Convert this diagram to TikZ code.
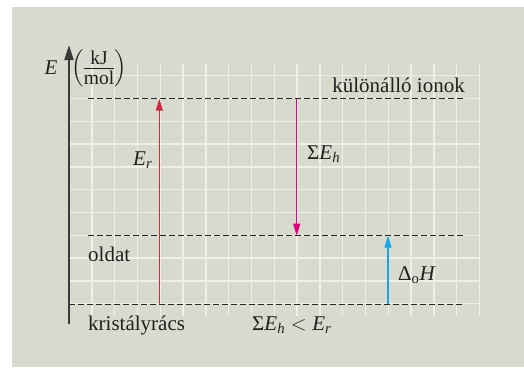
\documentclass[tikz,border=0pt]{standalone}
\usepackage{amsmath}
\usepackage{fontspec}
\setmainfont{Liberation Serif}
\usetikzlibrary{arrows.meta,positioning,calc}
\definecolor{enpanel}{HTML}{D9DACE}
\definecolor{engrid}{HTML}{F0F0E8}
\definecolor{enaxis}{HTML}{3A3A3A}
\definecolor{enred}{HTML}{D2283C}
\definecolor{enmagenta}{HTML}{E5007D}
\definecolor{encyan}{HTML}{14A6E6}
\definecolor{entext}{HTML}{231F20}

\begin{document}
\begin{tikzpicture}[
  x=1pt, y=-1pt,
  gridline/.style={engrid, line width=1.4pt},
  level/.style={dash pattern=on 6pt off 3pt, line width=0.9pt, black!85},
  axisarr/.style={-{Triangle[length=15pt,width=9pt]}, enaxis, line width=2pt},
  upred/.style={-{Triangle[length=12pt,width=7pt]}, enred, line width=1.3pt},
  downmag/.style={-{Triangle[length=12pt,width=7pt]}, enmagenta, line width=1.3pt},
  upcyan/.style={-{Triangle[length=12pt,width=7pt]}, encyan, line width=1.3pt},
  lbl/.style={font=\fontsize{21}{25}\selectfont, text=entext, inner sep=0pt},
  unitlbl/.style={font=\fontsize{19.5}{23}\selectfont, text=entext, inner sep=0pt},
]
\useasboundingbox (0,0) rectangle (524,367);

%% Panel and grid
\fill[enpanel] (12,7) rectangle (524,367);
\foreach \i in {1,...,18}
  \draw[gridline] ({69+22.8*\i},64) -- ({69+22.8*\i},316);
\foreach \j in {0,...,10}
  \draw[gridline] (69,{75.7+22.8*\j}) -- (480,{75.7+22.8*\j});

%% Energy axis
\coordinate (axbot) at (69,324);
\coordinate (axtop) at (69,45);
\draw[axisarr] (axbot) -- (axtop);
\node[lbl, anchor=base west] (elbl) at (44.3,74) {\textit{E}};
\node[unitlbl, anchor=center] (unit) at (99,68)
  {\renewcommand{\arraystretch}{0}\setlength{\arrayrulewidth}{0.8pt}%
   $\left(\vcenter{\hbox{\begin{tabular}{@{}c@{}}
     \rule[-3pt]{0pt}{14pt}kJ\\\hline
     \rule{0pt}{16pt}mol\end{tabular}}}\right)$};

%% Levels
\coordinate (ionsL) at (88,98.7);   \coordinate (ionsR) at (466,98.7);
\coordinate (oldL)  at (88,235.7);  \coordinate (oldR)  at (466,235.7);
\coordinate (crysL) at (69,304);    \coordinate (crysR) at (464,304);
\draw[level] (ionsL) -- (ionsR);
\draw[level] (oldL) -- (oldR);
\draw[level] (crysL) -- (crysR);

\node[lbl, anchor=base east] (ions) at (465,92.5) {különálló ionok};
\node[lbl, anchor=base west] (old)  at (88,261.3) {oldat};
\node[lbl, anchor=base west] (crys) at (88,330) {kristályrács};
\node[lbl, anchor=base west] (cmp)  at (252,330)
  {$\text{Σ}\textit{E}_{\textit{h}} < \textit{E}_{\textit{r}}$};

%% Arrows between the levels
\coordinate (erfrom) at (159.3,304);  \coordinate (erto) at (159.3,98.7);
\coordinate (ehfrom) at (296.7,98.7); \coordinate (ehto) at (296.7,235.7);
\coordinate (dhfrom) at (388,304);    \coordinate (dhto) at (388,235.7);
\draw[upred]   (erfrom) -- (erto);
\draw[downmag] (ehfrom) -- (ehto);
\draw[upcyan]  (dhfrom) -- (dhto);

\node[lbl, anchor=base west] (er) at (133,165.7) {$\textit{E}_{\textit{r}}$};
\node[lbl, anchor=base west] (eh) at (307,159.5) {$\text{Σ}\textit{E}_{\textit{h}}$};
\node[lbl, anchor=base west] (dh) at (398,280) {$\text{Δ}_{\text{o}}\textit{H}$};

\end{tikzpicture}
\end{document}
